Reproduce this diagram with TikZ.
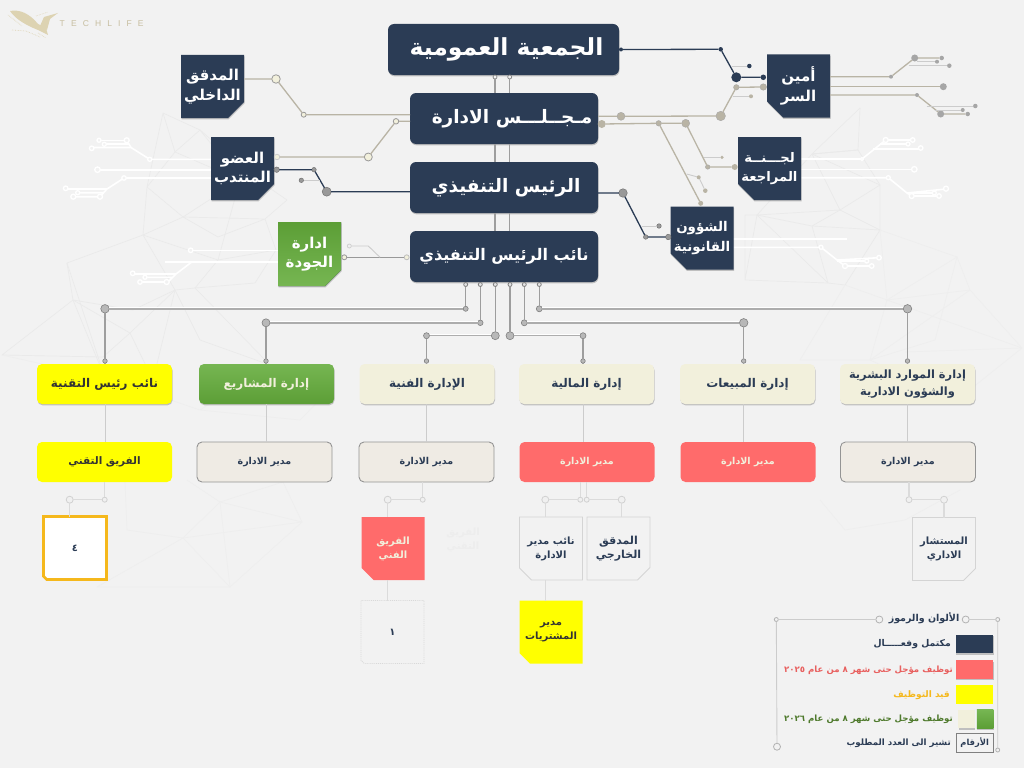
\documentclass[tikz,border=0pt]{standalone}
\usepackage{fontspec}
\usetikzlibrary{shapes.misc,shadows,calc}
\newfontfamily\arabicfont[Script=Arabic]{DejaVu Sans}
\newfontfamily\logofont[LetterSpace=72]{Liberation Sans}
\TeXXeTstate=1
\def\arb#1{\beginR #1\endR}
\def\nar#1{\makebox[0pt]{\beginR #1\endR}}
\definecolor{navy}{HTML}{2B3C55}
\definecolor{paper}{HTML}{F2F2F2}
\definecolor{creamy}{HTML}{F2F0DC}
\definecolor{stone}{HTML}{EFEBE4}
\definecolor{salmon}{HTML}{FF6B6B}
\definecolor{lemon}{HTML}{FFFF00}
\definecolor{amber}{HTML}{F5B81C}
\definecolor{greenhi}{HTML}{76B652}
\definecolor{greenlo}{HTML}{5C9E36}
\definecolor{greentx}{HTML}{4F7A2D}
\definecolor{redtx}{HTML}{E8605F}
\definecolor{tanline}{HTML}{B9B4A5}
\definecolor{meshline}{HTML}{EAEAEA}
\definecolor{meshfaint}{HTML}{EEEEEE}
\definecolor{goldy}{HTML}{DDD3B2}
\tikzset{
  softshadow/.style={drop shadow={shadow xshift=0.5pt,shadow yshift=-1.3pt,opacity=.3,fill=black!70}},
  topbox/.style={rounded corners=6pt,fill=navy,text=white,minimum height=51pt,inner sep=0pt,outer sep=0pt,softshadow,font=\arabicfont\bfseries\fontsize{18.5}{22}\selectfont},
  notch/.style={chamfered rectangle,chamfered rectangle corners=#1,chamfered rectangle xsep=16pt,chamfered rectangle ysep=16pt,minimum width=63pt,minimum height=63pt,inner sep=0pt,outer sep=0pt,align=center},
  navynotch/.style={notch=#1,fill=navy,text=white,softshadow,font=\arabicfont\bfseries\fontsize{15}{19.5}\selectfont},
  smallnotch/.style={notch=#1,fill=paper,draw=black!17,line width=.9pt,text=navy,font=\arabicfont\bfseries\fontsize{10}{14}\selectfont},
  rowbox/.style={rounded corners=5pt,minimum width=135pt,minimum height=40pt,inner sep=0pt,outer sep=0pt,align=center,font=\arabicfont\bfseries\fontsize{12}{18}\selectfont},
  creambox/.style={rowbox,fill=creamy,text=navy,softshadow},
  stonebox/.style={rowbox,fill=stone,draw=black!42,line width=.9pt,text=navy,font=\arabicfont\bfseries\fontsize{9.5}{12}\selectfont},
  tanwire/.style={draw=tanline,line width=1.3pt},
  navywire/.style={draw=navy,line width=1.3pt},
  thinwire/.style={draw=black!20,line width=.9pt},
  palewire/.style={draw=black!14,line width=1.2pt},
  greywire/.style={draw=black!38,line width=1.2pt},
  buswire/.style={draw=black!32,line width=1.4pt,preaction={draw=white,line width=1.2pt,transform canvas={yshift=1.3pt}}},
  traced/.style={draw=white,line width=1.6pt},
  mesh/.style={draw=meshline,line width=.7pt,line join=round},
  faintmesh/.style={draw=meshfaint,line width=.7pt,line join=round},
  tandot/.style={circle,minimum size=#1,inner sep=0pt,outer sep=0pt,fill=tanline,draw=black!35,line width=.4pt},
  creamdot/.style={circle,minimum size=#1,inner sep=0pt,outer sep=0pt,fill=creamy,draw=black!40,line width=.8pt},
  navydot/.style={circle,minimum size=#1,inner sep=0pt,outer sep=0pt,fill=navy},
  slatedot/.style={circle,minimum size=#1,inner sep=0pt,outer sep=0pt,fill=black!40,draw=black!55,line width=.5pt},
  paledot/.style={circle,minimum size=#1,inner sep=0pt,outer sep=0pt,fill=black!6,draw=black!18,line width=.8pt},
  busdot/.style={circle,minimum size=#1,inner sep=0pt,outer sep=0pt,fill=black!28,draw=black!50,line width=.6pt},
  whitedot/.style={circle,minimum size=#1,inner sep=0pt,outer sep=0pt,fill=paper,draw=white,line width=1.3pt},
  legtext/.style={anchor=east,inner sep=0pt,font=\arabicfont\bfseries\fontsize{8.6}{10}\selectfont}
}
\begin{document}
\begin{tikzpicture}[x=1pt,y=-1pt]
    \useasboundingbox (0,0) rectangle (1024,768);
    \fill[paper] (0,0) rectangle (1024,768);
    %Background mesh%
    %===========================================================
    \draw[mesh] (163,113) -- (200,130) -- (258,180) -- (287,200) -- (265,219) -- (183,217) -- (147,187) -- (163,113) -- (175,152) -- (147,187) -- (143,235) -- (183,217) -- (218,237) -- (265,219) -- (276,250);
    \draw[mesh] (143,235) -- (218,260) -- (195,288) -- (255,283) -- (276,250) -- (218,260) -- (240,180) -- (200,130) -- (175,152) -- (240,180) -- (183,217);
    \draw[mesh] (143,235) -- (67,263) -- (73,300) -- (2,355) -- (103,357) -- (130,333) -- (175,290) -- (143,235);
    \draw[mesh] (67,263) -- (105,378) -- (73,300) -- (133,310) -- (175,290) -- (200,340) -- (270,365) -- (195,288) -- (175,290) -- (153,380) -- (130,333) -- (73,300);
    \draw[faintmesh] (2,355) -- (105,378) -- (200,410) -- (270,365) -- (334,385) -- (300,420) -- (200,410);
    \draw[mesh] (860,108) -- (812,154) -- (858,150) -- (880,185) -- (840,210) -- (812,154) -- (757,215) -- (745,215) -- (745,280) -- (828,283) -- (845,285) -- (880,230) -- (840,210) -- (757,215) -- (745,280);
    \draw[mesh] (860,108) -- (858,150) -- (812,154) -- (880,185) -- (880,230) -- (812,226) -- (757,215) -- (828,283) -- (812,226) -- (840,210);
    \draw[faintmesh] (880,230) -- (957,257) -- (970,290) -- (887,300) -- (845,285) -- (800,360) -- (870,360) -- (887,300) -- (1022,348) -- (970,290) -- (870,360) -- (957,400) -- (1022,348) -- (905,352);
    \draw[faintmesh] (880,230) -- (887,300) -- (957,257) -- (935,340) -- (870,360);
    \draw[faintmesh] (187,480) -- (220,502) -- (302,522) -- (283,482) -- (220,502) -- (183,538) -- (230,587) -- (97,587) -- (183,538) -- (127,530) -- (125,482);
    \draw[faintmesh] (220,502) -- (230,587) -- (302,522) -- (183,538);
    \draw[faintmesh] (820,500) -- (845,530) -- (905,520) -- (960,490);
    %White traces%
    %===========================================================
    \draw[traced] (211,159.3) -- (149.7,159.3) -- (131,147.5) -- (91.7,147.5);
    \draw[traced] (126.7,140.3) -- (99,140.3) (129,144) -- (104.3,144);
    \draw[traced] (126.7,140.3) -- (131,147.5);
    \draw[traced] (211,169.7) -- (97.5,169.7);
    \draw[traced] (211,178) -- (124,178) -- (107,189) -- (65.7,189) (104,192.7) -- (77.7,192.7) (100,196.7) -- (73.3,196.7) (100,196.7) -- (107,189);
    \draw[traced] (278,250.3) -- (190.7,250.3);
    \draw[traced] (278,262) -- (165,262) (191.7,262) -- (176,274) -- (132.7,274) (173,277.3) -- (145,277.3) (168,282) -- (140,282) (168,282) -- (176,274);
    \draw[traced] (801,159) -- (862,159) -- (885.7,140) -- (912.7,140) (880,144) -- (908,144) (873,149) -- (920.7,149);
    \draw[traced] (801,169.3) -- (914.3,169.3);
    \draw[traced] (801,177.7) -- (888.3,177.7) -- (907,193) -- (946,189) (907,193) -- (934.3,193) (911.7,196) -- (939,196) (907,193) -- (911.7,196);
    \draw[traced] (733,239) -- (847,239);
    \draw[traced] (733,247.3) -- (821,247.3) -- (837,260) -- (879,257.7) (837,261) -- (866.7,261) (845,266) -- (871.7,266) (837,260) -- (845,266);
    \foreach \xa/\yb/\ds [count=\n] in {126.7/140.3/5,99/140.3/4,104.3/144.3/4,91.7/148.3/4.5,149.7/159.3/4,97.5/169.7/5.5,124/178/4.5,65.7/188.3/4.5,77.7/192.7/4,73.3/196.7/5,100/196.7/5,190.7/250.3/4.5,132.7/273.3/4.5,145/277.3/4,140/282/4.5,166.7/282/5,885.7/140/5,912.7/140/4.5,908/144/4,920.7/148/4.5,862/159/3,914.3/169.3/5.5,888.3/177.7/4,946/188.7/5,934.3/193/4,911.7/196/5,939/196/4.5,879/257.7/4.5,866.7/261/4,845/266/5,871.7/266/4.5,821/247.3/4}
      {\node[whitedot=\ds pt] (wd\n) at (\xa,\yb) {};}
    %Logo%
    %===========================================================
    \fill[goldy] (10,11) .. controls (20,9) and (30,14) .. (38,24) -- (46,28) -- (48,35) -- (38,30) .. controls (28,26) and (16,20) .. (10,11) -- cycle;
    \fill[goldy] (40,26) -- (44,17) -- (58,13) -- (50,19) -- (47,30) -- cycle;
    \draw[goldy,line width=.6pt,densely dotted] (12,30) -- (26,31) -- (40,37) (36,16) -- (48,12) (8,15) -- (22,26) (38,33) -- (46,38);
    \node[inner sep=0pt,anchor=west,text=goldy!90!black,font=\logofont\fontsize{8.5}{10}\selectfont] (logotext) at (59.5,24) {TECHLIFE};
    %Top boxes%
    %===========================================================
    \node[topbox,minimum width=231pt,font=\arabicfont\bfseries\fontsize{23.5}{28}\selectfont] (assembly) at (503.5,49.5) {\hspace{6pt}\arb{الجمعية العمومية}};
    \node[topbox,minimum width=188pt] (board) at (504,118.5) {\hspace{16pt}\arb{مـجــلـــس الادارة}};
    \node[topbox,minimum width=188pt] (ceo) at (504,187.5) {\hspace{4pt}\arb{الرئيس التنفيذي}};
    \node[topbox,minimum width=188pt,font=\arabicfont\bfseries\fontsize{16}{20}\selectfont] (deputy) at (504,256.5) {\arb{نائب الرئيس التنفيذي}};
    \node[navynotch=south east] (auditor) at (212.5,86.5) {\nar{المدقق}\\\nar{الداخلي}};
    \node[navynotch=south east] (delegate) at (242.5,168.5) {\nar{العضو}\\\nar{المنتدب}};
    \node[navynotch=south east,top color=greenlo,bottom color=greenhi,minimum height=64pt] (quality) at (309.5,254) {\nar{ادارة}\\\nar{الجودة}};
    \node[navynotch=south west] (secretary) at (798.5,86) {\nar{أمين}\\\nar{السر}};
    \node[navynotch=south west,font=\arabicfont\bfseries\fontsize{13.2}{19.5}\selectfont] (committee) at (769.5,168.5) {\nar{لجـــنــة}\\\nar{المراجعة}};
    \node[navynotch=south west,font=\arabicfont\bfseries\fontsize{13.4}{19.5}\selectfont] (legal) at (702,238) {\nar{الشؤون}\\\nar{القانونية}};
    %Department row%
    %===========================================================
    \node[rowbox,fill=lemon,text=black!80,softshadow] (techvp) at (104.5,384) {\arb{نائب رئيس التقنية}};
    \node[rowbox,top color=greenhi,bottom color=greenlo,text=creamy,softshadow] (projects) at (266.5,384) {\arb{إدارة المشاريع}};
    \node[creambox] (technical) at (427,384) {\arb{الإدارة الفنية}};
    \node[creambox] (finance) at (586.5,384) {\arb{إدارة المالية}};
    \node[creambox] (sales) at (747.5,384) {\arb{إدارة المبيعات}};
    \node[creambox,font=\arabicfont\bfseries\fontsize{11.4}{17}\selectfont] (hr) at (907.5,384) {\arb{إدارة الموارد البشرية}\\\arb{والشؤون الادارية}};
    \node[rowbox,fill=lemon,text=black!80,font=\arabicfont\bfseries\fontsize{10.4}{12}\selectfont] (techteam) at (104.5,462) {\arb{الفريق التقني}};
    \node[stonebox] (projmgr) at (264.5,462) {\arb{مدير الادارة}};
    \node[stonebox] (techmgr) at (426.5,462) {\arb{مدير الادارة}};
    \node[rowbox,fill=salmon,text=creamy,font=\arabicfont\bfseries\fontsize{9.5}{12}\selectfont] (finmgr) at (587,462) {\arb{مدير الادارة}};
    \node[rowbox,fill=salmon,text=creamy,font=\arabicfont\bfseries\fontsize{9.5}{12}\selectfont] (salesmgr) at (748,462) {\arb{مدير الادارة}};
    \node[stonebox] (hrmgr) at (908,462) {\arb{مدير الادارة}};
    %Lower row%
    %===========================================================
    \node[smallnotch=south west,fill=white,draw=amber,line width=2.6pt] (techcount) at (75,548) {\nar{٤}};
    \node[smallnotch=south west,fill=salmon,draw=none,text=creamy] (techfield) at (393,548.5) {\nar{الفريق}\\\nar{الفني}};
    \node[smallnotch=south west,draw=black!15,densely dotted] (fieldcount) at (392.5,632) {\nar{١}};
    \node[smallnotch=south west] (submgr) at (551,548.5) {\nar{نائب مدير}\\\nar{الادارة}};
    \node[smallnotch=south east,font=\arabicfont\bfseries\fontsize{11}{14}\selectfont] (external) at (618.5,548.5) {\nar{المدقق}\\\nar{الخارجي}};
    \node[smallnotch=south east] (consultant) at (944,549) {\nar{المستشار}\\\nar{الاداري}};
    \node[smallnotch=south west,fill=lemon,draw=none,text=black!80] (buyer) at (551,632) {\nar{مدير}\\\nar{المشتريات}};
    \node[inner sep=0pt,align=center,text=black!7,font=\arabicfont\bfseries\fontsize{10}{14}\selectfont] (ghostteam) at (463,540) {\arb{الفريق}\\\arb{التقني}};
    %Connectors upper part%
    %===========================================================
    \foreach \xa/\nm in {495/a,509.7/b}{
      \node[paledot=4pt,draw=black!45,fill=paper] (gabot\nm) at (\xa,77) {};
      \draw[greywire] (gabot\nm) -- (board.north -| gabot\nm);
      \draw[greywire] (board.south -| gabot\nm) -- (ceo.north -| gabot\nm);
      \draw[greywire] (ceo.south -| gabot\nm) -- (deputy.north -| gabot\nm);
    }
    %Assembly to secretary
    \node[navydot=4pt] (gaout) at (621,49.5) {};
    \node[navydot=4.5pt] (gaknee) at (720.7,49.3) {};
    \node[navydot=10pt] (gahub) at (736.3,77.3) {};
    \node[navydot=5.5pt] (gaend) at (763.3,77.3) {};
    \node[navydot=4.5pt] (gabranch) at (749.3,66) {};
    \coordinate (gastub) at (731.7,66);
    \draw[navywire] (gaout) -- (gaknee) -- (gahub) -- (gaend);
    \draw[thinwire] (gastub) -- (gabranch);
    %Board to secretary
    \node[tandot=8pt] (boardup) at (621,116.3) {};
    \node[tandot=9.5pt] (boardhub) at (720.7,116) {};
    \node[tandot=5.5pt] (boardknee) at (736.3,87.3) {};
    \node[tandot=6.5pt] (boardend) at (763.3,87) {};
    \node[tandot=4pt,draw=none] (boardbr) at (751,96.3) {};
    \coordinate (boardstub) at (732.7,96.3);
    \draw[tanwire] (board.east |- boardup) -- (boardup) -- (boardhub) -- (boardknee) -- (boardend);
    \draw[thinwire] (boardstub) -- (boardbr);
    %Board to committee and legal
    \node[tandot=8pt,draw=none] (boarddn) at (601.7,124) {};
    \node[tandot=5.5pt] (boardleg) at (658.7,123.3) {};
    \node[tandot=8pt] (boardcom) at (685.7,123.3) {};
    \node[tandot=4.5pt] (comknee) at (707.7,167) {};
    \node[tandot=6pt,draw=none] (comend) at (734.7,167) {};
    \node[tandot=3.5pt,draw=none] (combr) at (722,157.3) {};
    \coordinate (comstub) at (704,157.3);
    \node[tandot=5pt,draw=none] (legend) at (700.7,203.3) {};
    \node[tandot=4pt,draw=none] (legbr) at (698.7,177.3) {};
    \node[tandot=4.5pt,draw=none] (legbrend) at (705.3,190.7) {};
    \coordinate (legstub) at (686.7,174);
    \draw[tanwire] (boarddn) -- (boardleg) -- (boardcom) -- (comknee) -- (comend);
    \draw[tanwire] (boardleg) -- (legend);
    \draw[thinwire] (comstub) -- (combr);
    \draw[thinwire] (legstub) -- (legbr) -- (legbrend);
    %Auditor and delegate to board
    \node[creamdot=8.5pt] (audhub) at (276,79) {};
    \node[creamdot=5pt] (audknee) at (303.7,114.7) {};
    \draw[tanwire] (auditor.east |- audhub) -- (audhub) -- (audknee) -- (board.west |- audknee);
    \node[creamdot=5.5pt,draw=black!20] (delout) at (277,157) {};
    \node[creamdot=8pt] (delhub) at (368.3,157) {};
    \node[creamdot=5.5pt] (delknee) at (396,121.3) {};
    \draw[tanwire] (delout) -- (delhub) -- (delknee) -- (board.west |- delknee);
    %Delegate to chief
    \node[slatedot=5.5pt] (delceo) at (276.7,169.7) {};
    \node[slatedot=4.5pt] (ceoknee) at (314,169.7) {};
    \node[slatedot=9pt] (ceohub) at (326.7,191.7) {};
    \node[slatedot=4.5pt] (ceobr) at (301.3,180.3) {};
    \coordinate (ceostub) at (320,180.3);
    \draw[navywire] (delceo) -- (ceoknee) -- (ceohub) -- (ceo.west |- ceohub);
    \draw[thinwire] (ceobr) -- (ceostub);
    %Quality to deputy
    \node[creamdot=5pt] (qualout) at (344.3,257.3) {};
    \node[creamdot=5pt,draw=black!25] (qualin) at (406.7,257.3) {};
    \node[paledot=4pt] (qualbr) at (349.3,246) {};
    \coordinate (qualstub) at (380,257.3);
    \draw[tanwire,draw=black!40] (qualout) -- (qualin);
    \draw[thinwire] (qualbr) -- ++(19,0) -- (qualstub);
    %Chief to legal
    \node[slatedot=8.5pt] (cfohub) at (623,193) {};
    \node[slatedot=4.5pt] (cfoknee) at (645.7,237) {};
    \node[slatedot=5.5pt] (cfoend) at (668.3,237) {};
    \node[slatedot=4.5pt] (cfobr) at (659,226) {};
    \coordinate (cfostub) at (641.7,226);
    \draw[navywire] (ceo.east |- cfohub) -- (cfohub) -- (cfoknee) -- (cfoend);
    \draw[thinwire] (cfostub) -- (cfobr);
    %Secretary traces
    \foreach \nm/\xa/\yb/\ds in {sa/891/76.7/4,sb/914.7/58/7,sc/941.7/58/4.5,sd/937/61.7/4,se/949.3/65.7/4.5,sf/943.3/86.7/7,sg/917/95/4,sh/940.7/114/7,si/967.7/114/4.5,sj/962.7/110/4,sk/975.3/106/4.5}
      {\node[tandot=\ds pt,fill=black!35,draw=none] (\nm) at (\xa,\yb) {};}
    \draw[tanwire] (secretary.east |- sa) -- (sa) -- (sb) -- (sc);
    \draw[thinwire] ($(sb)+(2,3.7)$) -- (sd) (sb |- se) ++(-6,0) -- (se);
    \draw[tanwire] (secretary.east |- sf) -- (sf);
    \draw[tanwire] (secretary.east |- sg) -- (sg) -- (sh) -- (si);
    \draw[thinwire] (sh |- sj) ++(-6,0) -- (sj) (sh |- sk) ++(-14,0) -- (sk);
    %Deputy to department row%
    %===========================================================
    \foreach \nm/\xa/\yb/\dsa/\xc/\dsb/\rowname/\mgrname in {a/465.7/308.8/5/105/8.5/techvp/techteam,b/480.3/322.8/5.5/266/8/projects/projmgr,c/495.3/335.7/8/426.5/6/technical/techmgr,d/510/335.7/8/583/6/finance/finmgr,e/524.3/322.8/6/743.7/8.5/sales/salesmgr,f/539.3/308.8/6/907.5/8.5/hr/hrmgr}{
      \node[paledot=4pt,draw=black!50,fill=black!10] (depbot\nm) at (\xa,284.5) {};
      \node[busdot=\dsa pt] (bustop\nm) at (\xa,\yb) {};
      \node[busdot=\dsb pt] (busfar\nm) at (\xc,\yb) {};
      \node[busdot=4.5pt] (busin\nm) at (\xc,361) {};
      \draw[greywire] (depbot\nm) -- (bustop\nm);
      \draw[buswire] (bustop\nm) -- (busfar\nm);
      \draw[greywire] (busfar\nm) -- (busin\nm);
      \draw[greywire] (busin\nm) -- (\rowname.north -| busin\nm);
      \draw[thinwire] (\rowname.south -| busin\nm) -- (\mgrname.north -| busin\nm);
    }
    %Lower connectors%
    %===========================================================
    \node[paledot=5pt] (vpa) at (104.7,499.7) {};
    \node[paledot=7pt] (vpb) at (69.7,499.7) {};
    \draw[palewire] (techteam.south -| vpa) -- (vpa) -- (vpb) -- (techcount.north -| vpb);
    \node[paledot=5pt] (teca) at (422.7,499.7) {};
    \node[paledot=7pt] (tecb) at (387.7,499.7) {};
    \draw[palewire] (techmgr.south -| teca) -- (teca) -- (tecb) -- (techfield.north -| tecb);
    \draw[palewire] (techfield.south -| tecb) -- (fieldcount.north -| tecb);
    \node[paledot=5pt] (fina) at (580.3,499.7) {};
    \node[paledot=5pt] (finb) at (586.7,499.7) {};
    \node[paledot=7pt] (finc) at (545.3,499.7) {};
    \node[paledot=7pt] (find) at (621.7,499.7) {};
    \draw[palewire] (finmgr.south -| fina) -- (fina) -- (finc) -- (submgr.north -| finc);
    \draw[palewire] (finmgr.south -| finb) -- (finb) -- (find) -- (external.north -| find);
    \draw[palewire] (submgr.south -| finc) -- (buyer.north -| finc);
    \node[paledot=6pt] (hra) at (909,499.7) {};
    \node[paledot=7pt] (hrb) at (944,499.7) {};
    \draw[palewire] (hrmgr.south -| hra) -- (hra) -- (hrb) -- (consultant.north -| hrb);
    %Legend%
    %===========================================================
    \node[paledot=4pt,draw=black!30,fill=paper] (frameA) at (776.3,619.5) {};
    \node[paledot=7pt,draw=black!30,fill=paper] (frameB) at (879.3,619.5) {};
    \node[paledot=7pt,draw=black!30,fill=paper] (frameC) at (965.7,619.5) {};
    \node[paledot=4pt,draw=black!30,fill=paper] (frameD) at (997.7,619.5) {};
    \node[paledot=4pt,draw=black!30,fill=paper] (frameE) at (997.7,750) {};
    \node[paledot=7pt,draw=black!30,fill=paper] (frameF) at (777,746.7) {};
    \draw[thinwire] (frameB) -- (frameA) -- (frameF) (frameC) -- (frameD) -- (frameE);
    \node[anchor=center,inner sep=0pt,text=navy,font=\arabicfont\bfseries\fontsize{9.5}{11}\selectfont] (legtitle) at (924,618) {\arb{الألوان والرموز}};
    \node[minimum width=37.5pt,minimum height=18.5pt,inner sep=0pt,fill=navy,softshadow] (swnavy) at (974.7,644) {};
    \node[minimum width=37.5pt,minimum height=18.5pt,inner sep=0pt,fill=salmon,softshadow] (swred) at (974.7,669.7) {};
    \node[minimum width=37.5pt,minimum height=18.5pt,inner sep=0pt,fill=lemon] (swyel) at (974.7,694.5) {};
    \node[minimum width=16.5pt,minimum height=18.5pt,inner sep=0pt,fill=creamy,softshadow] (swcream) at (966.3,719) {};
    \node[minimum width=16.5pt,minimum height=18.5pt,inner sep=0pt,top color=greenhi,bottom color=greenlo,softshadow] (swgreen) at (985.2,719) {};
    \node[minimum width=37pt,minimum height=18.5pt,inner sep=0pt,draw=black!50,line width=.6pt,text=navy,font=\arabicfont\bfseries\fontsize{8.3}{10}\selectfont] (swnum) at (974.7,743) {\arb{الأرقام}};
    \node[legtext,text=navy,font=\arabicfont\bfseries\fontsize{9.3}{11}\selectfont] (legA) at (951,644.5) {\arb{مكتمل وفعـــــال}};
    \node[legtext,text=redtx] (legB) at (953,670) {\arb{توظيف مؤجل حتى شهر ٨ من عام \beginL ٢٠٢٥\endL}};
    \node[legtext,text=amber,font=\arabicfont\bfseries\fontsize{9}{11}\selectfont] (legC) at (950,695) {\arb{قيد التوظيف}};
    \node[legtext,text=greentx] (legD) at (953,719) {\arb{توظيف مؤجل حتى شهر ٨ من عام \beginL ٢٠٢٦\endL}};
    \node[legtext,text=navy,font=\arabicfont\bfseries\fontsize{8.7}{10}\selectfont] (legE) at (951,743) {\arb{تشير الى العدد المطلوب}};
\end{tikzpicture}
\end{document}
